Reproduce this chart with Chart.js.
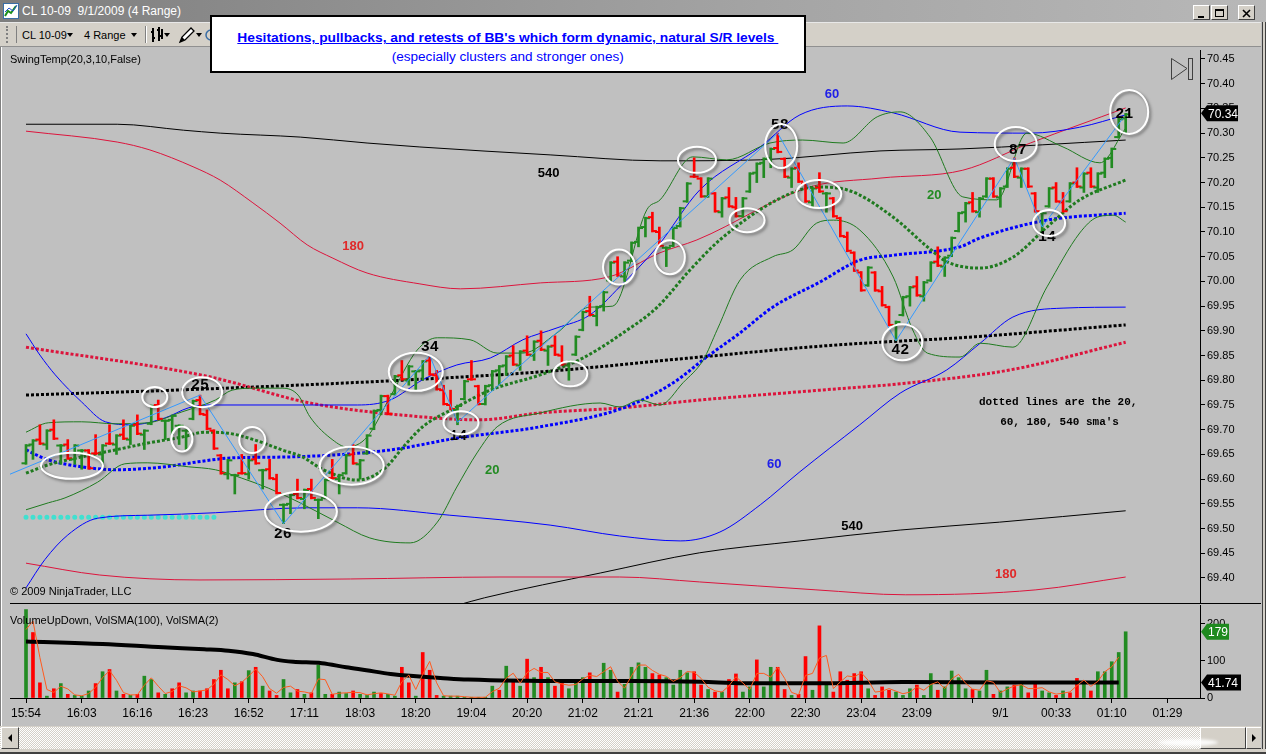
<!DOCTYPE html>
<html><head><meta charset="utf-8"><title>CL 10-09 9/1/2009 (4 Range)</title>
<script src="https://cdn.jsdelivr.net/npm/chart.js@4.4.1/dist/chart.umd.min.js"></script>
<style>
*{box-sizing:border-box}
html,body{margin:0;padding:0;width:1266px;height:754px;overflow:hidden;background:#c0c0c0;font-family:"Liberation Sans",Arial,sans-serif}
.abs{position:absolute}
#titlebar{left:0;top:0;width:1266px;height:22px;background:linear-gradient(to right,#7e7e7e 0%,#a4a4a4 60%,#b8b8b8 100%)}
#ttext{left:22px;top:4px;color:#fff;font-size:12px;white-space:nowrap}
.wbtn{top:5px;width:17px;height:15px;background:#d4d0c8;border:1px solid;border-color:#fff #404040 #404040 #fff}
#toolbar{left:0;top:22px;width:1266px;height:25px;background:#d4d0c8;border-top:1px solid #e8e8e8;border-bottom:1px solid #909090}
.tb{top:6px;font-size:11px;color:#000;white-space:nowrap}
#box{left:210px;top:15px;width:596px;height:58px;background:#fff;border:2px solid #000;z-index:5}
#t1{left:0;top:11px;width:592px;text-align:center;white-space:nowrap}
#t1 span{display:inline-block;color:#0000ff;font-weight:bold;font-size:12px;text-decoration:underline;transform-origin:center}
#t2{left:0;top:30px;width:592px;text-align:center;white-space:nowrap}
#t2 span{display:inline-block;color:#0000ff;font-size:12px;transform-origin:center}
.lbl{font-size:11px;color:#000;white-space:nowrap;z-index:4}
canvas{position:absolute}
#sep{left:10px;top:603px;width:1251px;height:1px;background:#000;z-index:3}
#frameL{left:0;top:47px;width:3px;height:679px;background:linear-gradient(to right,#808080 0,#808080 1px,#ffffff 1px,#ffffff 2px,#c0c0c0 2px)}
#frameR{left:1261px;top:22px;width:5px;height:732px;background:linear-gradient(to right,#c0c0c0 0,#c0c0c0 1px,#404040 1px,#404040 2px,#d4d0c8 2px,#d4d0c8 4px,#404040 4px)}
#scroll{left:0;top:726px;width:1261px;height:23px;background:repeating-conic-gradient(#ffffff 0 25%,#d4d0c8 0 50%) 0 0/2px 2px;border-top:1px solid #d4d0c8}
.sbtn{top:727px;height:22px;background:#d4d0c8;border:1px solid;border-color:#fff #404040 #404040 #fff}
#bottom{left:0;top:749px;width:1266px;height:5px;background:linear-gradient(#d4d0c8 0,#d4d0c8 3px,#404040 3px)}
</style></head><body>

<div id="titlebar" class="abs">
  <svg class="abs" style="left:3px;top:3px" width="16" height="16"><rect x="0.5" y="0.5" width="15" height="15" fill="#fff" stroke="#3a6ea5"/><polyline points="2,13 5,8 8,10 13,3" fill="none" stroke="#1a8f1a" stroke-width="2"/><polyline points="2,9 6,5 10,8 14,2" fill="none" stroke="#2050d0" stroke-width="1"/></svg>
  <div class="abs" id="ttext">CL 10-09&nbsp; 9/1/2009 (4 Range)</div>
  <div class="abs wbtn" style="left:1193px"><svg width="15" height="13"><rect x="4" y="9" width="6" height="2" fill="#000"/></svg></div>
  <div class="abs wbtn" style="left:1211px"><svg width="15" height="13"><rect x="3.5" y="2.5" width="8" height="7" fill="none" stroke="#000"/><rect x="3" y="2" width="9" height="2" fill="#000"/></svg></div>
  <div class="abs wbtn" style="left:1238px"><svg width="15" height="13"><path d="M4 3 L11 10 M11 3 L4 10" stroke="#000" stroke-width="1.6"/></svg></div>
</div>

<div id="toolbar" class="abs">
  <div class="abs" style="left:6px;top:3px;width:3px;height:17px;border-left:2px dotted #808080"></div>
  <div class="abs" style="left:16px;top:3px;width:1px;height:17px;background:#808080"></div>
  <div class="abs tb" style="left:22px">CL 10-09</div>
  <svg class="abs" style="left:67px;top:10px" width="7" height="5"><path d="M0 0 L6 0 L3 4 Z" fill="#000"/></svg>
  <div class="abs tb" style="left:84px">4 Range</div>
  <svg class="abs" style="left:131px;top:10px" width="7" height="5"><path d="M0 0 L6 0 L3 4 Z" fill="#000"/></svg>
  <div class="abs" style="left:145px;top:3px;width:1px;height:17px;background:#808080"></div>
  <div class="abs" style="left:146px;top:3px;width:1px;height:17px;background:#fff"></div>
  <svg class="abs" style="left:150px;top:4px" width="14" height="16"><path d="M3 1 V15 M1 5 H3 M3 11 H5 M9 0 V14 M7 3 H9 M9 9 H11 M12 2 V12" stroke="#000" stroke-width="2" fill="none"/></svg>
  <svg class="abs" style="left:164px;top:10px" width="7" height="5"><path d="M0 0 L6 0 L3 4 Z" fill="#000"/></svg>
  <svg class="abs" style="left:177px;top:3px" width="18" height="18"><path d="M3 16 L5 11 L14 2 L17 5 L8 14 Z" fill="#fff" stroke="#000" stroke-width="1.3"/><path d="M3 16 L5 11 L8 14 Z" fill="#000"/></svg>
  <svg class="abs" style="left:196px;top:10px" width="7" height="5"><path d="M0 0 L6 0 L3 4 Z" fill="#000"/></svg>
  <svg class="abs" style="left:204px;top:5px" width="8" height="14"><circle cx="7" cy="7" r="5" fill="none" stroke="#3a6ea5" stroke-width="1.5"/></svg>
</div>

<div id="box" class="abs">
  <div id="t1" class="abs"><span id="t1s">Hesitations, pullbacks, and retests of BB's which form dynamic, natural S/R levels&nbsp;</span></div>
  <div id="t2" class="abs"><span id="t2s">(especially clusters and stronger ones)</span></div>
</div>

<div id="frameL" class="abs"></div>
<canvas id="pc" width="1250" height="553" style="left:10px;top:50px"></canvas>
<canvas id="vc" width="1250" height="118" style="left:10px;top:605px"></canvas>
<div id="sep" class="abs"></div>
<div class="abs lbl" style="left:10px;top:53px">SwingTemp(20,3,10,False)</div>
<div class="abs lbl" style="left:10px;top:585px">© 2009 NinjaTrader, LLC</div>
<div class="abs lbl" style="left:10px;top:614px">VolumeUpDown, VolSMA(100), VolSMA(2)</div>
<svg class="abs" style="left:1170px;top:57px;z-index:4" width="24" height="25"><path d="M1.5 1.5 L17 11.5 L1.5 22.5 Z" fill="none" stroke="#404040" stroke-width="1"/><rect x="18.5" y="1.5" width="4" height="21" fill="none" stroke="#404040" stroke-width="1"/></svg>

<div id="scroll" class="abs"></div>
<div class="abs sbtn" style="left:1px;width:18px"><svg width="16" height="20"><path d="M10 6 L6 10 L10 14 Z" fill="#000"/></svg></div>
<div class="abs sbtn" style="left:1200px;width:46px"></div>
<div class="abs sbtn" style="left:1246px;width:16px"><svg width="14" height="20"><path d="M5 6 L9 10 L5 14 Z" fill="#000"/></svg></div>
<div class="abs" style="left:1158px;top:739px;width:60px;height:7px;border-radius:50%;background:#fff;filter:blur(1.5px);opacity:.9"></div>
<div id="frameR" class="abs"></div>
<div id="bottom" class="abs"></div>

<script>
// ---------------- DATA ----------------
// 4-tick range bars: bar high prices and direction (G = up bar, R = down bar)
const barHighs = [
 69.67,69.68,69.71,69.70,69.72,69.67,69.68,69.67,69.66,69.66,
 69.69,69.67,69.71,69.69,69.72,69.71,69.73,69.70,69.75,69.76,
 69.72,69.73,69.71,69.70,69.76,69.77,69.74,69.70,69.65,69.64,
 69.61,69.65,69.64,69.67,69.62,69.64,69.61,69.55,69.57,69.60,
 69.58,69.60,69.56,69.60,69.64,69.61,69.65,69.67,69.64,69.69,
 69.74,69.77,69.77,69.81,69.84,69.83,69.82,69.84,69.85,69.82,
 69.79,69.78,69.75,69.80,69.84,69.79,69.79,69.82,69.83,69.85,
 69.87,69.86,69.89,69.88,69.90,69.87,69.89,69.87,69.84,69.89,
 69.94,69.97,69.95,69.98,70.04,70.05,70.04,70.08,70.11,70.13,
 70.14,70.11,70.07,70.11,70.15,70.20,70.25,70.21,70.21,70.18,
 70.17,70.19,70.17,70.17,70.22,70.24,70.25,70.27,70.30,70.25,
 70.23,70.24,70.20,70.19,70.22,70.18,70.17,70.13,70.10,70.06,
 70.02,70.03,70.02,69.99,69.95,69.92,69.97,69.99,70.01,70.00,
 70.04,70.07,70.05,70.09,70.14,70.16,70.18,70.17,70.21,70.21,
 70.19,70.23,70.25,70.23,70.23,70.18,70.14,70.19,70.20,70.18,
 70.20,70.23,70.22,70.23,70.22,70.25,70.27,70.33,70.34
];
const barDirs = ("GGRGRGRGGR"+"RGRGRGRGGR"+"GGGGGRRRRG"+"GRGRGRRGGR"+"GRGGRGGRGG"+
  "GGRGRGGGRR"+"RRGGRRGGGG"+"RGRGRGRRGG"+"GRGGGRGGGG"+"RRGGGGRRGR"+
  "GRRGGGGGRR"+"GRRGRGRRRR"+"RGRRRGGGRG"+"GRGGGGRGGR"+"GGRGRRGGRR"+"GRGRGGGGG").split('');
const BAR_RANGE = 0.04;     // "4 Range" bars, tick 0.01

// volume per bar and its up/down colour
const volumes = [
 239,177,41,5,25,39,10,7,5,19, 39,71,77,19,10,7,10,59,50,14,
 10,25,41,14,19,19,25,50,75,25, 41,44,74,83,32,19,7,50,14,23,
 10,14,89,10,10,16,12,19,10,7, 16,12,10,5,83,41,5,123,75,7,
 5,5,5,2,2,2,2,32,21,86, 48,32,105,55,83,55,32,44,25,48,
 55,68,48,94,75,16,37,83,95,83, 66,62,55,35,75,68,71,35,23,16,
 16,50,65,16,30,103,30,83,83,23, 7,10,112,21,195,35,16,71,48,66,
 71,25,7,30,21,16,7,25,35,7, 66,21,30,73,55,25,23,19,75,10,
 19,30,35,37,14,37,19,14,7,19, 14,53,44,19,71,71,98,123,179
];
const volDirs = ("GRRGRGRGGG"+"RGRGRGRGGR"+"GRRGGRRRRR"+"GRGRGRRGGR"+"GRGGRGGRGG"+
  "GRGGRRGRRR"+"GGGGGGGGRG"+"RGRGRGRRGG"+"GRGGGRGGGG"+"RRGGGGRRGR"+
  "GRRGGRGGRR"+"GRRGRGRRRR"+"RGRRRGGGRG"+"GRGGGGRGGR"+"GGRGRRGGRG"+"RRGRGGGGG").split('');
// VolSMA(2) orange line (bars 0..157)
const volSma2 = [
 185,208,109,23,15,32,24.5,8.5,6,12, 29,55,74,48,14.5,8.5,8.5,34.5,54.5,32,
 12,17.5,33,27.5,16.5,19,22,37.5,62.5,50, 33,42.5,59,78.5,57.5,25.5,13,28.5,32,18.5,
 16.5,12,51.5,49.5,10,13,14,15.5,14.5,8.5, 11.5,14,11,7.5,44,62,23,64,99,41,
 6,5,5,3.5,2,2,2,17,26.5,53.5, 67,40,68.5,80,69,69,43.5,38,34.5,36.5,
 51.5,61.5,58,71,84.5,45.5,26.5,60,89,89, 74.5,64,58.5,45,55,71.5,69.5,53,29,19.5,
 16,33,57.5,40.5,23,66.5,66.5,56.5,83,53, 15,8.5,61,66.5,108,115,25.5,43.5,59.5,57,
 68.5,48,16,18.5,25.5,18.5,11.5,16,30,21, 36.5,43.5,25.5,51.5,64,40,24,21,47,42.5,
 14.5,24.5,32.5,36,25.5,25.5,28,16.5,10.5,13, 16.5,33.5,48.5,31.5,45,71,84.5,110.5
];
// VolSMA(100) thick black line: [bar, volume]
const volSma100 = [[0,153],[11,146],[19.7,137],[25.6,132],[29.1,128],[32.6,119],[36.1,103],[38.4,98],[42.5,94],[46,83],[48.9,75],[52.4,65],[60.6,53],[63.5,50],[78.1,46],[87,46],[97,44],[103,40],[114,40],[126,43],[140,42],[157,41.74]];

// Bollinger bands / SMAs read as [bar, price]
const bb540Upper = [[0,70.318],[13.1,70.318],[22.6,70.306],[27.9,70.300],[39.4,70.292],[49,70.280],[56.6,70.272],[75.3,70.256],[91.1,70.244],[105.5,70.246],[122.7,70.264],[134.2,70.268],[158,70.286]];
const bb540Lower = [[62,69.345],[65.9,69.360],[82.5,69.410],[96.8,69.451],[111.2,69.475],[125.6,69.497],[139.9,69.513],[158,69.536]];
const sma540 = [[0,69.770],[25,69.782],[55.2,69.801],[73.9,69.817],[96.8,69.847],[114.1,69.869],[122.7,69.877],[134.2,69.886],[158,69.912]];
const bb180Upper = [[0,70.304],[13.1,70.282],[17.8,70.266],[24,70.232],[27.9,70.205],[32.6,70.159],[36.5,70.118],[40.4,70.074],[44.1,70.047],[49,70.017],[56.6,69.995],[62.4,69.985],[73.9,69.997],[83.7,70.009],[91.1,70.058],[96.4,70.084],[112.6,70.191],[122.7,70.209],[134.6,70.225],[144.3,70.280],[158,70.351]];
const bb180Lower = [[0,69.430],[10.6,69.406],[25,69.396],[46.6,69.398],[68.1,69.402],[85.3,69.402],[96.8,69.392],[113.5,69.376],[126.4,69.366],[145.1,69.376],[158,69.402]];
const sma180 = [[0,69.867],[26.4,69.807],[40.8,69.754],[55.2,69.728],[65.2,69.720],[73.9,69.734],[85.3,69.744],[96.8,69.760],[114.1,69.780],[125.6,69.793],[141.4,69.821],[158,69.877]];
const bb60Upper = [[0,69.894],[2,69.851],[4.2,69.811],[8,69.756],[11.4,69.716],[15.2,69.710],[20,69.724],[23.3,69.744],[26.1,69.750],[40.1,69.750],[47.6,69.750],[52.3,69.760],[57,69.801],[61.9,69.831],[66.7,69.845],[71.4,69.882],[76.3,69.906],[81,69.932],[85.3,69.989],[90.7,70.070],[96.8,70.185],[105.5,70.272],[111.2,70.337],[118,70.355],[124.6,70.341],[134.2,70.302],[144.3,70.300],[151.4,70.312],[158,70.337]];
const bb60Lower = [[0,69.380],[2.7,69.437],[6,69.487],[10.3,69.521],[17.5,69.527],[27.2,69.532],[40.1,69.542],[47.6,69.542],[60.9,69.527],[75.3,69.507],[85.3,69.485],[94,69.475],[99.7,69.493],[105.5,69.548],[111.2,69.615],[119.8,69.710],[125.6,69.774],[132.3,69.821],[137.1,69.875],[141.8,69.928],[149,69.946],[158,69.948]];
const sma60 = [[0,69.659],[3.2,69.639],[8,69.625],[12.8,69.619],[20,69.625],[24.7,69.635],[29.6,69.643],[37.9,69.645],[52.3,69.659],[61.9,69.683],[73.9,69.706],[85.8,69.744],[93,69.795],[97.8,69.847],[102.6,69.896],[107.3,69.948],[114.1,69.999],[119.8,70.043],[124.6,70.053],[134.2,70.070],[137.1,70.088],[146.7,70.124],[158,70.138]];
const bb20Upper = [[0,69.695],[3.2,69.714],[8,69.716],[12.8,69.712],[17.5,69.714],[22.4,69.736],[27.2,69.760],[29.6,69.780],[32.9,69.784],[36.8,69.784],[39.1,69.770],[40.8,69.726],[44.1,69.679],[46.1,69.665],[49,69.685],[52.3,69.766],[56.2,69.861],[59.1,69.886],[63.8,69.882],[67.7,69.855],[71.4,69.855],[76.3,69.896],[81,69.948],[84.3,69.950],[89.2,70.145],[91.1,70.165],[95.8,70.252],[100.7,70.246],[106.9,70.280],[111.6,70.286],[117.4,70.280],[122.3,70.333],[125.6,70.343],[129.9,70.292],[134.6,70.171],[139.5,70.165],[143.8,70.300],[149,70.272],[154.3,70.240],[158,70.310]];
const bb20Lower = [[0,69.538],[3.2,69.552],[5.6,69.562],[10.3,69.594],[14.2,69.631],[17.5,69.633],[23.3,69.625],[27.2,69.619],[31,69.602],[34.8,69.582],[39.1,69.554],[44.7,69.513],[49.4,69.481],[55.2,69.471],[59.1,69.513],[61.9,69.584],[64.8,69.653],[67.7,69.706],[73.9,69.734],[82.5,69.754],[85.3,69.746],[88.2,69.760],[91.1,69.750],[94.4,69.795],[97.3,69.841],[99.3,69.902],[102.6,70.003],[107.3,70.050],[110.2,70.064],[113.6,70.118],[116,70.124],[119.8,70.104],[124.6,70.009],[127.4,69.902],[129.5,69.855],[134.2,69.847],[137.1,69.875],[141.8,69.867],[146.7,69.989],[151.4,70.098],[153.9,70.130],[156.2,70.134],[158,70.120]];
const sma20 = [[0,69.612],[3.2,69.629],[8,69.645],[12.8,69.659],[17.5,69.673],[22.4,69.685],[25.7,69.695],[29,69.693],[32.9,69.679],[36.8,69.659],[39.7,69.645],[42.7,69.619],[47.6,69.598],[51.3,69.619],[54.7,69.673],[57,69.706],[61.9,69.746],[66.7,69.780],[73.9,69.811],[80,69.845],[85.8,69.896],[90.7,69.948],[95.4,70.023],[99.7,70.084],[107.9,70.165],[113.6,70.191],[118,70.185],[124.6,70.130],[129.5,70.070],[132.3,70.040],[137.1,70.027],[141.8,70.049],[146.7,70.110],[151.4,70.165],[158,70.205]];
const cyanLevel = [[0,69.523],[27.4,69.523]];

// swing zigzag
const swingBars = [-2.3,25,37,58,62,108,125,142,146,157.6];
const swingPrices = [69.61,69.77,69.51,69.85,69.715,70.30,69.88,70.25,70.11,70.33];
const swingTexts = ['25','26','34','14','58','42','87','14','21'];
const swingTextBars = [25,36.9,58,62.1,108.3,125.6,142.5,146.7,157.8];
const swingTextPrices = [69.789,69.489,69.867,69.687,70.316,69.861,70.266,70.090,70.339];

// indicator name labels on the chart
const lineNames = ['60','540','180','20','20','60','540','180'];
const lineNameBars = [115.8,75.1,47,130.5,67,107.5,118.7,140.8];
const lineNamePrices = [70.379,70.219,70.070,70.173,69.617,69.629,69.505,69.408];
const noteText = ["dotted lines are the 20,", "60, 180, 540 sma's"];
const noteBars = [148.3,148.5];
const notePrices = [69.756,69.716];

// circled spots (centre bar, centre price)
const circleBars = [6.6,18.5,25.3,22.4,32.5,39.5,46.8,56,62.5,78.2,85.2,92.5,96.4,103.6,108.5,113.9,125.9,142.2,147,158.5];
const circlePrices = [69.627,69.766,69.776,69.681,69.679,69.534,69.627,69.817,69.714,69.813,70.029,70.049,70.246,70.124,70.274,70.177,69.877,70.278,70.118,70.343];

// axis ticks
const priceTicks = [70.45,70.40,70.35,70.30,70.25,70.20,70.15,70.10,70.05,70.00,69.95,69.90,69.85,69.80,69.75,69.70,69.65,69.60,69.55,69.50,69.45,69.40];
const volTicks = [0,100,200];
const timeTickBars = [0,8,16,24,32,40,48,56,64,72,80,88,96,104,112,120,128,136,140,148,156,164];
const timeTickLabels = ['15:54','16:03','16:16','16:23','16:52','17:11','18:03','18:20','19:04','20:20','21:02','21:21','21:36','22:00','22:30','23:04','23:09','','9/1','00:33','01:10','01:29'];
const lastPrice = 70.34, lastVolume = 179, lastVolSma = 41.74;

// ---------------- STYLE / LAYOUT ----------------
const GREEN = '#228b22', RED = '#ff0000';
const C_BLUE = '#0000ff', C_RED = '#dc143c', C_GRN = '#1f7a1f', C_BLK = '#000000';
const circleRx = [31,12.5,20,10.5,13,36,32,27,17.5,17,16,15,19,17.5,16,22.5,20,21,16,19];
const circleRy = [13,10,15,12.5,13,20,19,19,11.5,12.5,17.5,17,13,12,22,14,18,17,13,22];
const nameColors = ['#2020e8','#000','#e02828','#228b22','#228b22','#2020e8','#000','#e02828'];
const X_MIN = -2.3, X_MAX = 168.68;
const P_MIN = 69.3494, P_MAX = 70.4682;
const V_MAX = 251.35;
Chart.defaults.font.family = '"Liberation Sans", Arial, sans-serif';

const barLows = barHighs.map(h => +(h - BAR_RANGE).toFixed(2));
const barCloses = barHighs.map((h, i) => barDirs[i] === 'G' ? h : barLows[i]);
const barOpens = barHighs.map((h, i) => {
  const prev = i ? barCloses[i - 1] : (barDirs[i] === 'G' ? barLows[i] : h);
  return Math.min(h, Math.max(barLows[i], prev));
});
const pts = arr => arr.map(p => ({x: p[0], y: p[1]}));

function lineDs(label, arr, color, width, dash) {
  return {type: 'line', label, data: pts(arr), borderColor: color, borderWidth: width,
    borderDash: dash || [], pointRadius: 0, fill: false, cubicInterpolationMode: 'monotone', order: 5};
}

const ohlcTicks = {
  id: 'ohlcTicks',
  afterDatasetDraw(chart, args) {
    if (chart.data.datasets[args.index].label !== 'ohlc') return;
    const {ctx, chartArea: a} = chart, x = chart.scales.x, y = chart.scales.y;
    ctx.save();
    ctx.beginPath(); ctx.rect(a.left, a.top, a.right - a.left, a.bottom - a.top); ctx.clip();
    ctx.lineWidth = 2; ctx.lineCap = 'butt';
    barHighs.forEach((h, i) => {
      const px = x.getPixelForValue(i);
      ctx.strokeStyle = barDirs[i] === 'G' ? GREEN : RED;
      const yo = y.getPixelForValue(barOpens[i]) + (barOpens[i] === h ? 1 : 0) - (barOpens[i] === barLows[i] ? 1 : 0);
      const yc = y.getPixelForValue(barCloses[i]) + (barCloses[i] === h ? 1 : -1);
      ctx.beginPath(); ctx.moveTo(px - 4.5, yo); ctx.lineTo(px, yo); ctx.stroke();
      ctx.beginPath(); ctx.moveTo(px, yc); ctx.lineTo(px + 4.5, yc); ctx.stroke();
    });
    ctx.restore();
  }
};

const annotations = {
  id: 'annotations',
  afterDatasetsDraw(chart) {
    const {ctx} = chart, x = chart.scales.x, y = chart.scales.y;
    ctx.save();
    ctx.textAlign = 'center'; ctx.textBaseline = 'middle';
    ctx.font = 'bold 13px "Liberation Sans"';
    lineNames.forEach((t, k) => { ctx.fillStyle = nameColors[k]; ctx.fillText(t, x.getPixelForValue(lineNameBars[k]), y.getPixelForValue(lineNamePrices[k])); });
    ctx.font = 'bold 11px "Liberation Mono"'; ctx.fillStyle = '#000';
    noteText.forEach((t, k) => ctx.fillText(t, x.getPixelForValue(noteBars[k]), y.getPixelForValue(notePrices[k])));
    ctx.font = 'bold 15px "Liberation Mono"';
    swingTexts.forEach((t, k) => ctx.fillText(t, x.getPixelForValue(swingTextBars[k]), y.getPixelForValue(swingTextPrices[k])));
    ctx.shadowColor = 'rgba(40,40,40,0.55)'; ctx.shadowBlur = 3; ctx.shadowOffsetX = 2; ctx.shadowOffsetY = 2;
    ctx.strokeStyle = '#ffffff'; ctx.lineWidth = 2;
    circleBars.forEach((b, k) => {
      ctx.beginPath();
      ctx.ellipse(x.getPixelForValue(b), y.getPixelForValue(circlePrices[k]), circleRx[k], circleRy[k], 0, 0, Math.PI * 2);
      ctx.stroke();
    });
    ctx.restore();
  }
};

function drawTag(ctx, x0, yc, text, bg, w) {
  ctx.save();
  ctx.fillStyle = bg; ctx.beginPath();
  ctx.moveTo(x0 + 1, yc); ctx.lineTo(x0 + 7, yc - 8); ctx.lineTo(x0 + w, yc - 8);
  ctx.lineTo(x0 + w, yc + 8); ctx.lineTo(x0 + 7, yc + 8); ctx.closePath(); ctx.fill();
  ctx.fillStyle = '#fff'; ctx.font = '12px "Liberation Sans"'; ctx.textAlign = 'left'; ctx.textBaseline = 'middle';
  ctx.fillText(text, x0 + 8, yc + 1);
  ctx.restore();
}
const priceTag = {
  id: 'priceTag',
  afterDraw(chart) { drawTag(chart.ctx, chart.chartArea.right, chart.scales.y.getPixelForValue(lastPrice), lastPrice.toFixed(2), '#000', 38); }
};
const volTags = {
  id: 'volTags',
  afterDraw(chart) {
    const y = chart.scales.y, r = chart.chartArea.right;
    drawTag(chart.ctx, r, y.getPixelForValue(lastVolSma), lastVolSma.toFixed(2), '#000', 41);
    drawTag(chart.ctx, r, y.getPixelForValue(lastVolume), String(lastVolume), '#1e8a1e', 29);
  }
};

function rightAxis(min, max, ticks, fmt) {
  return {
    type: 'linear', position: 'right', min, max,
    afterFit(s) { s.width = 60; s.paddingTop = 0; s.paddingBottom = 0; },
    afterBuildTicks(s) { s.ticks = ticks.map(v => ({value: v})); },
    ticks: {callback: fmt, color: '#000', font: {size: 11}, padding: 2, autoSkip: false},
    grid: {drawOnChartArea: false, drawTicks: true, tickLength: 5, color: '#000'},
    border: {display: true, color: '#000', width: 1}
  };
}

// ---------------- PRICE PANEL ----------------
new Chart(document.getElementById('pc'), {
  type: 'line',
  data: {datasets: [
    {type: 'line', label: 'swing', data: swingBars.map((b, k) => ({x: b, y: swingPrices[k]})), borderColor: '#3399ff', borderWidth: 1, pointRadius: 0, tension: 0, order: 1},
    {type: 'bar', label: 'ohlc', data: barHighs.map((h, i) => ({x: i, y: [barLows[i], h]})),
      backgroundColor: barDirs.map(d => d === 'G' ? GREEN : RED), barThickness: 2, grouped: false, order: 2},
    lineDs('bb20u', bb20Upper, C_GRN, 1),
    lineDs('bb20l', bb20Lower, C_GRN, 1),
    lineDs('sma20', sma20, C_GRN, 3, [3, 2]),
    lineDs('bb60u', bb60Upper, C_BLUE, 1),
    lineDs('bb60l', bb60Lower, C_BLUE, 1),
    lineDs('sma60', sma60, C_BLUE, 3, [3, 2]),
    lineDs('bb180u', bb180Upper, C_RED, 1),
    lineDs('bb180l', bb180Lower, C_RED, 1),
    lineDs('sma180', sma180, C_RED, 3, [3, 2]),
    lineDs('bb540u', bb540Upper, C_BLK, 1),
    lineDs('bb540l', bb540Lower, C_BLK, 1),
    lineDs('sma540', sma540, C_BLK, 3, [3, 2]),
    {type: 'line', label: 'cyan', data: pts(cyanLevel), borderColor: '#40e0d0', borderWidth: 5, borderDash: [0, 6.96], borderCapStyle: 'round', pointRadius: 0, order: 6}
  ]},
  options: {
    responsive: false, animation: false, events: [],
    layout: {padding: 0},
    plugins: {legend: {display: false}, tooltip: {enabled: false}},
    scales: {
      x: {type: 'linear', min: X_MIN, max: X_MAX, display: false, offset: false, grid: {offset: false}},
      y: rightAxis(P_MIN, P_MAX, priceTicks, v => v.toFixed(2))
    }
  },
  plugins: [ohlcTicks, annotations, priceTag]
});

// ---------------- VOLUME PANEL ----------------
new Chart(document.getElementById('vc'), {
  type: 'bar',
  data: {datasets: [
    {type: 'line', label: 'volsma2', data: volSma2.map((v, i) => ({x: i, y: v})), borderColor: '#ff5a1e', borderWidth: 1, pointRadius: 0, tension: 0, order: 1},
    {type: 'line', label: 'volsma100', data: pts(volSma100), borderColor: '#000', borderWidth: 4, pointRadius: 0, cubicInterpolationMode: 'monotone', order: 2},
    {type: 'bar', label: 'vol', data: volumes.map((v, i) => ({x: i, y: v})), backgroundColor: volDirs.map(d => d === 'G' ? GREEN : RED), barThickness: 3, grouped: false, order: 3}
  ]},
  options: {
    responsive: false, animation: false, events: [],
    layout: {padding: 0},
    plugins: {legend: {display: false}, tooltip: {enabled: false}},
    scales: {
      x: {
        type: 'linear', position: 'bottom', min: X_MIN, max: X_MAX, offset: false,
        afterFit(s) { s.height = 25; s.paddingLeft = 0; s.paddingRight = 0; },
        afterBuildTicks(s) { s.ticks = timeTickBars.map(v => ({value: v})); },
        ticks: {callback: (v, i) => timeTickLabels[i], color: '#000', font: {size: 12}, padding: 3, maxRotation: 0, autoSkip: false},
        grid: {offset: false, drawOnChartArea: false, drawTicks: true, tickLength: 5,
          tickColor: c => timeTickLabels[c.index] === '9/1' ? 'rgba(0,0,0,0)' : '#000'},
        border: {display: true, color: '#000', width: 1}
      },
      y: Object.assign(rightAxis(0, V_MAX, volTicks, v => String(v)), {beginAtZero: true})
    }
  },
  plugins: [volTags]
});

// fit the heading lines to the width they take in the original
function fitWidth(id, w) {
  const el = document.getElementById(id);
  const cur = el.getBoundingClientRect().width;
  if (cur > 0) el.style.transform = 'scaleX(' + (w / cur) + ')';
}
fitWidth('t1s', 541);
fitWidth('t2s', 232);
</script>
</body></html>
